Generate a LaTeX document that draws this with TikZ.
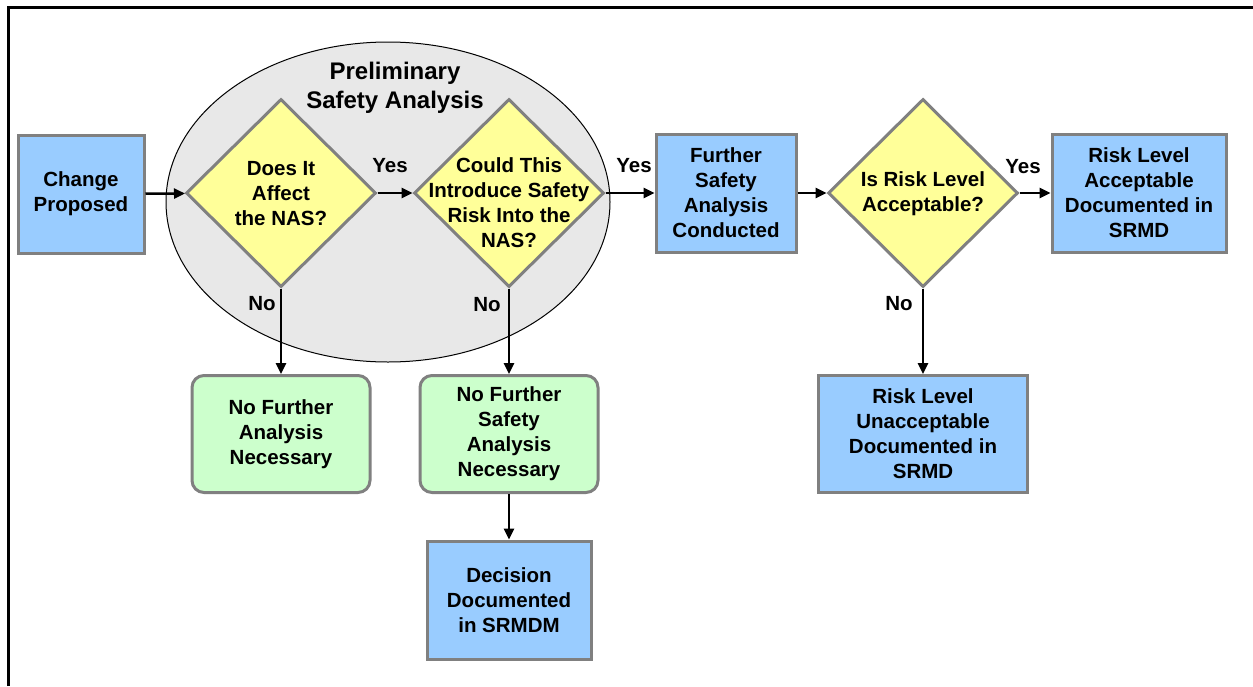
\documentclass[tikz,border=0pt]{standalone}
\usepackage{fontspec}
\setmainfont{Liberation Sans}
\usetikzlibrary{shapes.geometric,arrows.meta}

\definecolor{procblue}{HTML}{99CCFF}
\definecolor{askyellow}{HTML}{FFFF99}
\definecolor{stopgreen}{HTML}{CCFFCC}
\definecolor{boxgrey}{HTML}{808080}
\definecolor{prelimgrey}{HTML}{E8E8E8}

\tikzset{
  boxfont/.style={font=\bfseries\fontsize{20.5}{25}\selectfont},
  process/.style={rectangle, draw=boxgrey, line width=3pt, fill=procblue,
    boxfont, align=center, inner sep=0pt, minimum height=118pt},
  stopbox/.style={process, fill=stopgreen, rounded corners=12pt},
  decision/.style={diamond, draw=boxgrey, line width=3pt, fill=askyellow,
    inner sep=0pt, minimum width=190pt, minimum height=188pt},
  qtext/.style={boxfont, align=center, inner sep=0pt},
  lbl/.style={boxfont, inner sep=0pt},
  flow/.style={line width=2.5pt, -{Triangle[length=11pt,width=10pt]}}
}

\begin{document}
\begin{tikzpicture}[x=1pt,y=-1pt]
    \useasboundingbox (0,0) rectangle (1253,686);
    \draw[line width=3pt] (8,686) -- (8,7) -- (1253,7);

    % preliminary safety analysis
    \node[ellipse, draw, line width=1pt, fill=prelimgrey,
      minimum width=444pt, minimum height=320pt] (prelim) at (388,202) {};
    \node[qtext, font=\bfseries\fontsize{24}{29}\selectfont] (prelim-t) at (395,88)
      {Preliminary\\Safety Analysis};

    \node[process, minimum width=126pt] (change) at (81,194) {Change\\Proposed};

    \node[decision] (affect) at (281,193) {};
    \node[qtext] (affect-t) at (281,194) {Does It\\Affect\\the NAS?};

    \node[decision] (intro) at (509,193) {};
    \node[qtext] (intro-t) at (509,203) {Could This\\Introduce Safety\\Risk Into the\\NAS?};

    \node[process, minimum width=140pt] (further) at (726,193)
      {Further\\Safety\\Analysis\\Conducted};

    \node[decision] (level) at (923,193) {};
    \node[qtext] (level-t) at (923,194) {Is Risk Level\\Acceptable?};

    \node[process, minimum width=174pt] (accept) at (1139,193)
      {Risk Level\\Acceptable\\Documented in\\SRMD};
    \node[process, minimum width=209pt, minimum height=117pt] (unaccept) at (923,434)
      {Risk Level\\Unacceptable\\Documented in\\SRMD};

    \node[stopbox, minimum width=178pt, minimum height=117pt] (nofurther) at (281,434)
      {No Further\\Analysis\\Necessary};
    \node[stopbox, minimum width=178pt, minimum height=117pt] (nosafety) at (509,434)
      {No Further\\Safety\\Analysis\\Necessary};
    \node[process, minimum width=164pt] (decision) at (509,600)
      {Decision\\Documented\\in SRMDM};

    \draw[flow] (change) -- (affect);
    \draw[flow] (affect) -- (intro);
    \draw[flow] (intro) -- (further);
    \draw[flow] (further) -- (level);
    \draw[flow] (level) -- (accept);
    \draw[flow] (affect.south) -- (nofurther.north);
    \draw[flow] (intro.south) -- (nosafety.north);
    \draw[flow] (level.south) -- (unaccept.north);
    \draw[flow] (nosafety.south) -- (decision.north);

    \node[lbl] (yes1) at (390,166) {Yes};
    \node[lbl] (yes2) at (634,166) {Yes};
    \node[lbl] (yes3) at (1023,167) {Yes};
    \node[lbl] (no1) at (262,304) {No};
    \node[lbl] (no2) at (487,305) {No};
    \node[lbl] (no3) at (899,304) {No};
\end{tikzpicture}
\end{document}
